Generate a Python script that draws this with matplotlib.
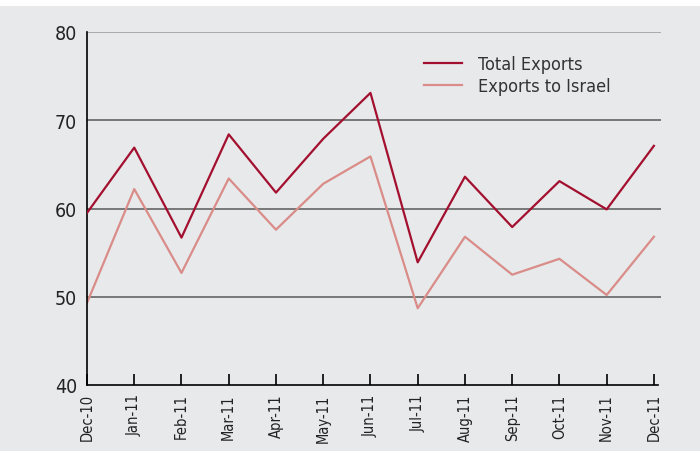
import matplotlib.pyplot as plt
from matplotlib import font_manager
from matplotlib.patches import Rectangle

# ---------------------------------------------------------------
# data
# ---------------------------------------------------------------

months = ["Dec-10", "Jan-11", "Feb-11", "Mar-11", "Apr-11", "May-11",
          "Jun-11", "Jul-11", "Aug-11", "Sep-11", "Oct-11", "Nov-11",
          "Dec-11"]

total_exports = [59.5, 66.9, 56.7, 68.4, 61.8, 67.9, 73.1,
                 53.9, 63.6, 57.9, 63.1, 59.9, 67.1]

exports_israel = [49.3, 62.2, 52.7, 63.4, 57.6, 62.8, 65.9,
                  48.7, 56.8, 52.5, 54.3, 50.2, 56.8]

y_ticks = [40, 50, 60, 70, 80]

# ---------------------------------------------------------------
# style
# ---------------------------------------------------------------

# look for a condensed sans face, otherwise fall back to Liberation Sans
family = "Liberation Sans"
stretch = "normal"
for f in font_manager.fontManager.ttflist:
    if ("Narrow" in f.name or "Condensed" in f.name) and f.style == "normal":
        family = f.name
        break
    if f.name in ("DejaVu Sans", "Liberation Sans") and f.stretch in ("condensed", "semi-condensed"):
        family = f.name
        stretch = "condensed"
        break

plt.rcParams["font.family"] = [family, "DejaVu Sans"]
plt.rcParams["font.stretch"] = stretch

BG = "#e8e9eb"
TOTAL = "#a3102f"
ISRAEL = "#d98c88"

fig = plt.figure(figsize=(7.0, 4.52), dpi=100, facecolor=BG)

# white strip at the very top (cut-off title area)
fig.patches.append(Rectangle((0, 1 - 7 / 452), 1, 7 / 452,
                             transform=fig.transFigure,
                             facecolor="white", edgecolor="none"))

ax = fig.add_axes([87 / 700, 1 - 386 / 452, (661 - 87) / 700, 353 / 452])
ax.set_facecolor(BG)

x = list(range(len(months)))

for v in y_ticks[1:]:
    ax.axhline(v, color="#aaaaaa" if v == 80 else "#777777",
               linewidth=1.4, zorder=1)

ax.plot(x, total_exports, color=TOTAL, linewidth=1.6,
        label="Total Exports", zorder=3)
ax.plot(x, exports_israel, color=ISRAEL, linewidth=1.6,
        label="Exports to Israel", zorder=2)

ax.set_xlim(0, 12.15)
ax.set_ylim(40, 80)

ax.set_yticks(y_ticks)
ax.set_yticklabels([str(v) for v in y_ticks], fontsize=14, color="#222222")
ax.tick_params(axis="y", length=0, pad=7)

ax.set_xticks(x)
ax.set_xticklabels(months, rotation=90, fontsize=10.5, color="#222222")
ax.tick_params(axis="x", direction="in", length=8, width=1.2, pad=6)

for side in ["top", "right"]:
    ax.spines[side].set_visible(False)
ax.spines["left"].set_linewidth(1.2)
ax.spines["bottom"].set_linewidth(1.2)
ax.spines["bottom"].set_bounds(0, 12.08)

leg = ax.legend(loc="upper left", bbox_to_anchor=(0.559, 0.98),
                frameon=False, fontsize=13, handlelength=2.1,
                handletextpad=0.9, labelspacing=0.2)
for t in leg.get_texts():
    t.set_color("#333333")

fig.savefig("out.png", dpi=100, facecolor=BG)
